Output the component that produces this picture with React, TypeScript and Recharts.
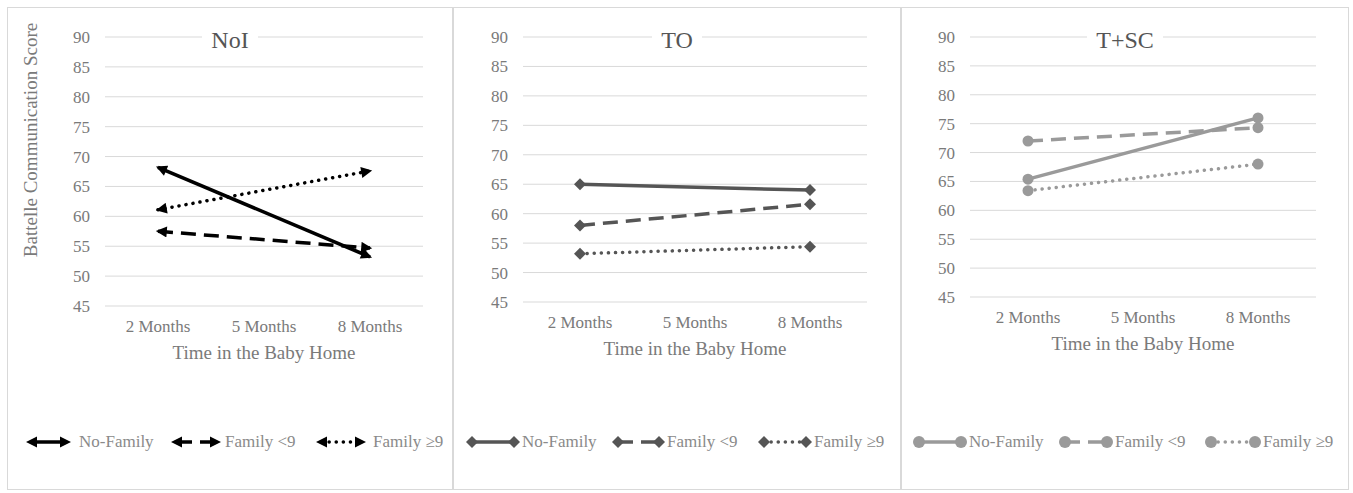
import { CartesianGrid, Label, Line, LineChart, XAxis, YAxis } from 'recharts';

const months = ['2 Months', '5 Months', '8 Months'];
const yTicks = [45, 50, 55, 60, 65, 70, 75, 80, 85, 90];
const seriesNames = ['No-Family', 'Family <9', 'Family ≥9'];
const panelTitles = ['NoI', 'TO', 'T+SC'];

// NoI
const noiNoFamily = [68.2, null, 53.2];
const noiFamilyLt9 = [57.5, null, 54.7];
const noiFamilyGe9 = [61.1, null, 67.6];
// TO
const toNoFamily = [65, null, 64];
const toFamilyLt9 = [58, null, 61.6];
const toFamilyGe9 = [53.2, null, 54.4];
// T+SC
const tscNoFamily = [65.4, null, 76];
const tscFamilyLt9 = [72, null, 74.3];
const tscFamilyGe9 = [63.4, null, 68];

const serif = "'Liberation Serif', 'Times New Roman', serif";
const grid = '#d9d9d9';
const tickGray = '#7a7a7a';

const dashes = [undefined, '15 8', '0.1 7'];
const caps = ['butt', 'butt', 'round'];

const panels = [
  {
    title: panelTitles[0], series: [noiNoFamily, noiFamilyLt9, noiFamilyGe9], color: '#000000', marker: 'arrow',
    left: 7, width: 446, yWidth: 97, right: 29, bottom: 123, yLabel: true,
    legend: [{ x: 18, w: 45, t: 71 }, { x: 163, w: 50, t: 217 }, { x: 308, w: 50, t: 365 }],
  },
  {
    title: panelTitles[1], series: [toNoFamily, toFamilyLt9, toFamilyGe9], color: '#555555', marker: 'diamond',
    left: 453, width: 448, yWidth: 69, right: 33, bottom: 127, yLabel: false,
    legend: [{ x: 12, w: 54, t: 68 }, { x: 158, w: 53, t: 213 }, { x: 304, w: 54, t: 360 }],
  },
  {
    title: panelTitles[2], series: [tscNoFamily, tscFamilyLt9, tscFamilyGe9], color: '#9a9a9a', marker: 'circle',
    left: 901, width: 448, yWidth: 68, right: 32, bottom: 132, yLabel: false,
    legend: [{ x: 11, w: 54, t: 67 }, { x: 157, w: 54, t: 213 }, { x: 303, w: 56, t: 361 }],
  },
];

function makeDot(kind, color) {
  if (kind === 'arrow') return false;
  return (p) => {
    if (p.cx == null || p.cy == null || p.value == null) return <g key={p.key ?? p.index} />;
    if (kind === 'diamond') {
      const s = 6;
      return (
        <polygon key={p.key ?? p.index} fill={color}
          points={`${p.cx},${p.cy - s} ${p.cx + s},${p.cy} ${p.cx},${p.cy + s} ${p.cx - s},${p.cy}`} />
      );
    }
    return <circle key={p.key ?? p.index} cx={p.cx} cy={p.cy} r={5.5} fill={color} />;
  };
}

function LegendSymbol({ kind, color, w, i }) {
  const cy = 8;
  const end = (x, dir) => {
    if (kind === 'arrow') {
      return <polygon points={`${x},${cy} ${x - dir * 11},${cy - 5.5} ${x - dir * 11},${cy + 5.5}`} fill={color} />;
    }
    if (kind === 'diamond') {
      const c = x - dir * 6;
      return <polygon points={`${c},${cy - 6} ${c + 6},${cy} ${c},${cy + 6} ${c - 6},${cy}`} fill={color} />;
    }
    return <circle cx={x - dir * 6} cy={cy} r={6} fill={color} />;
  };
  return (
    <svg width={w} height={16} style={{ display: 'block' }}>
      <line x1={6} x2={w - 6} y1={cy} y2={cy} stroke={color} strokeWidth={3.5}
        strokeDasharray={dashes[i]} strokeLinecap={caps[i]} />
      {end(0, -1)}
      {end(w, 1)}
    </svg>
  );
}

function Panel({ cfg }) {
  const data = months.map((m, k) => ({
    month: m,
    s0: cfg.series[0][k],
    s1: cfg.series[1][k],
    s2: cfg.series[2][k],
  }));
  const height = 483;
  const plotW = cfg.width - 2 - cfg.yWidth - cfg.right;
  const pad = Math.round(plotW / (2 * months.length));
  return (
    <div style={{ position: 'absolute', left: cfg.left, top: 7, width: cfg.width, height, boxSizing: 'border-box', border: `1px solid ${grid}` }}>
      <LineChart width={cfg.width - 2} height={height - 2} data={data}
        margin={{ top: 29, right: cfg.right, left: 0, bottom: cfg.bottom }}>
        <CartesianGrid vertical={false} stroke={grid} strokeWidth={1} />
        <XAxis dataKey="month" axisLine={false} tickLine={false} tickSize={0} tickMargin={14} height={60}
          padding={{ left: pad, right: pad }}
          tick={{ fill: tickGray, fontSize: 17, fontFamily: serif }}>
          <Label content={({ viewBox }) => (
            <text x={viewBox.x + viewBox.width / 2} y={viewBox.y + 53} textAnchor="middle"
              fill={tickGray} fontSize={19} fontFamily={serif}>Time in the Baby Home</text>
          )} />
        </XAxis>
        <YAxis domain={[45, 90]} ticks={yTicks} interval={0} width={cfg.yWidth} axisLine={false} tickLine={false}
          tickSize={0} tickMargin={15} tick={{ fill: tickGray, fontSize: 17, fontFamily: serif }}>
          {cfg.yLabel && (
            <Label content={({ viewBox }) => (
              <text x={viewBox.x + 22} y={viewBox.y + 103} transform={`rotate(-90 ${viewBox.x + 22} ${viewBox.y + 103})`}
                textAnchor="middle" dominantBaseline="central" fill={tickGray} fontSize={19} fontFamily={serif}>
                Battelle Communication Score
              </text>
            )} />
          )}
        </YAxis>
        {[0, 1, 2].map((i) => (
          <Line key={i} dataKey={`s${i}`} name={seriesNames[i]} type="linear" connectNulls
            stroke={cfg.color} strokeWidth={3.5} strokeDasharray={dashes[i]} strokeLinecap={caps[i]}
            markerStart={cfg.marker === 'arrow' ? 'url(#noiArrow)' : undefined}
            markerEnd={cfg.marker === 'arrow' ? 'url(#noiArrow)' : undefined}
            dot={makeDot(cfg.marker, cfg.color)} activeDot={false} isAnimationActive={false} />
        ))}
      </LineChart>
      <div style={{ position: 'absolute', left: 0, right: 0, top: 18, textAlign: 'center', lineHeight: '28px' }}>
        <span style={{ background: '#fff', padding: '0 9px', fontSize: 24, fontFamily: serif, color: '#555' }}>{cfg.title}</span>
      </div>
      {cfg.legend.map((it, i) => (
        <div key={i}>
          <div style={{ position: 'absolute', left: it.x, top: 426 }}>
            <LegendSymbol kind={cfg.marker} color={cfg.color} w={it.w} i={i} />
          </div>
          <div style={{ position: 'absolute', left: it.t, top: 423, fontSize: 17, lineHeight: '22px', fontFamily: serif, color: '#8a8a8a', whiteSpace: 'nowrap' }}>
            {seriesNames[i]}
          </div>
        </div>
      ))}
    </div>
  );
}

export default function App() {
  return (
    <div style={{ position: 'absolute', left: 0, top: 0, width: 1353, height: 493, background: '#fff' }}>
      <svg width={0} height={0} style={{ position: 'absolute' }}>
        <defs>
          <marker id="noiArrow" viewBox="0 0 10 10" refX={8} refY={5} markerWidth={12} markerHeight={11}
            markerUnits="userSpaceOnUse" orient="auto-start-reverse">
            <path d="M0,0 L10,5 L0,10 z" fill="#000" />
          </marker>
        </defs>
      </svg>
      {panels.map((p, i) => <Panel key={i} cfg={p} />)}
    </div>
  );
}
